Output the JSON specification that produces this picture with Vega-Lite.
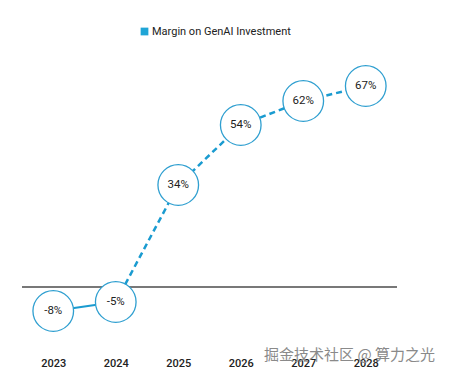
{
  "$schema": "https://vega.github.io/schema/vega-lite/v6.json",
  "width": 375,
  "height": 300,
  "autosize": {"type": "none"},
  "padding": {"left": 22, "top": 47, "right": 59, "bottom": 30},
  "background": "white",
  "config": {"view": {"stroke": null}, "font": "Roboto"},
  "title": {
    "text": "掘金技术社区 @ 算力之光",
    "orient": "bottom",
    "anchor": "end",
    "frame": "group",
    "font": "Noto Sans CJK SC",
    "fontSize": 15,
    "fontWeight": "normal",
    "color": "#8a8a8a",
    "opacity": 0.85,
    "dx": 38,
    "offset": -20
  },
  "data": {
    "values": [
      {"year": 2023, "value": -8, "label": "-8%"},
      {"year": 2024, "value": -5, "label": "-5%"},
      {"year": 2025, "value": 34, "label": "34%"},
      {"year": 2026, "value": 54, "label": "54%"},
      {"year": 2027, "value": 62, "label": "62%"},
      {"year": 2028, "value": 67, "label": "67%"}
    ]
  },
  "encoding": {
    "x": {
      "field": "year",
      "type": "ordinal",
      "scale": {"type": "point", "padding": 0.5},
      "axis": {
        "title": null,
        "domain": false,
        "ticks": false,
        "grid": false,
        "labelAngle": 0,
        "labelPadding": 10,
        "labelFontSize": 11,
        "labelFontWeight": 500,
        "labelColor": "#222222"
      }
    },
    "y": {
      "field": "value",
      "type": "quantitative",
      "scale": {"domain": [-20, 80], "nice": false, "zero": false},
      "axis": null
    }
  },
  "layer": [
    {
      "mark": {"type": "rule", "color": "#777777", "strokeWidth": 1.2},
      "encoding": {"x": null, "y": {"datum": 0}}
    },
    {
      "transform": [{"filter": "datum.year <= 2024"}],
      "mark": {"type": "line", "color": "#1a9bd0", "strokeWidth": 2.2, "interpolate": "linear"}
    },
    {
      "transform": [{"filter": "datum.year >= 2024"}],
      "mark": {"type": "line", "strokeWidth": 2.5, "strokeDash": [6, 4]},
      "encoding": {
        "color": {
          "datum": "Margin on GenAI Investment",
          "type": "nominal",
          "scale": {"range": ["#1a9bd0"]},
          "legend": {
            "title": null,
            "orient": "none",
            "legendX": 117,
            "legendY": -21,
            "symbolType": "square",
            "symbolSize": 60,
            "labelFont": "Roboto",
            "labelFontSize": 11,
            "labelColor": "#222222",
            "labelOffset": 2,
            "encode": {"symbols": {"update": {"fill": {"value": "#1fa5d6"}, "stroke": {"value": "#1fa5d6"}, "strokeWidth": {"value": 0}, "strokeDash": {"value": [1, 0]}}}}
          }
        }
      }
    },
    {
      "mark": {"type": "point", "shape": "circle", "filled": true, "fill": "white", "stroke": "#2f9fd0", "strokeWidth": 1.3, "size": 1650, "opacity": 1}
    },
    {
      "mark": {"type": "text", "fontSize": 11.5, "color": "#222222", "font": "Roboto"},
      "encoding": {"text": {"field": "label"}}
    }
  ]
}
